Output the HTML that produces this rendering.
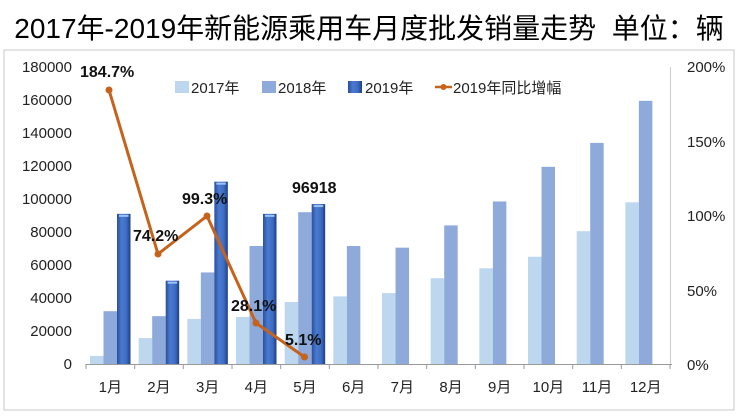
<!DOCTYPE html>
<html><head><meta charset="utf-8"><style>
body{margin:0;background:#fff;}
svg text{font-family:"Liberation Sans","Noto Sans CJK SC",sans-serif;}
</style></head><body>
<svg width="744" height="415" xmlns="http://www.w3.org/2000/svg">
<defs>
<linearGradient id="g19" x1="0" x2="1" y1="0" y2="0">
<stop offset="0" stop-color="#2a4f9a"/><stop offset="0.35" stop-color="#4a7bd0"/><stop offset="0.7" stop-color="#3d6cc4"/><stop offset="1" stop-color="#1f3f85"/>
</linearGradient>
</defs>
<rect x="0" y="0" width="744" height="415" fill="#fff"/>
<rect x="4" y="50" width="730" height="360" fill="none" stroke="#c8c8c8" stroke-width="1"/>
<text x="369" y="38" font-size="28" text-anchor="middle" fill="#000">2017年-2019年新能源乘用车月度批发销量走势&#160;&#160;单位：辆</text>
<g font-size="15" fill="#222" text-anchor="end">
<text x="72" y="369">0</text>
<text x="72" y="336">20000</text>
<text x="72" y="303">40000</text>
<text x="72" y="270">60000</text>
<text x="72" y="237">80000</text>
<text x="72" y="204">100000</text>
<text x="72" y="171">120000</text>
<text x="72" y="138">140000</text>
<text x="72" y="105">160000</text>
<text x="72" y="72">180000</text>
</g>
<g font-size="15" fill="#222">
<text x="687" y="370">0%</text>
<text x="687" y="296">50%</text>
<text x="687" y="221">100%</text>
<text x="687" y="147">150%</text>
<text x="687" y="72">200%</text>
</g>
<line x1="86" y1="364.5" x2="672" y2="364.5" stroke="#999"/>
<line x1="670.5" y1="67" x2="670.5" y2="364" stroke="#ccc"/>
<g stroke="#999">
<line x1="86" y1="364" x2="86" y2="369"/><line x1="134.7" y1="364" x2="134.7" y2="369"/><line x1="183.3" y1="364" x2="183.3" y2="369"/><line x1="232" y1="364" x2="232" y2="369"/><line x1="280.7" y1="364" x2="280.7" y2="369"/><line x1="329.3" y1="364" x2="329.3" y2="369"/><line x1="378" y1="364" x2="378" y2="369"/><line x1="426.7" y1="364" x2="426.7" y2="369"/><line x1="475.3" y1="364" x2="475.3" y2="369"/><line x1="524" y1="364" x2="524" y2="369"/><line x1="572.7" y1="364" x2="572.7" y2="369"/><line x1="621.3" y1="364" x2="621.3" y2="369"/><line x1="670" y1="364" x2="670" y2="369"/>
</g>
<g id="bars"></g>
<g font-size="15" fill="#222" text-anchor="middle" id="xl"></g>
<rect x="175" y="81" width="14" height="12" fill="#bdd7ee"/>
<text x="191" y="93" font-size="15" fill="#222">2017年</text>
<rect x="262" y="81" width="14" height="12" fill="#8eaadb"/>
<text x="278" y="93" font-size="15" fill="#222">2018年</text>
<rect x="348" y="81" width="14" height="12" fill="url(#g19)"/>
<text x="365" y="93" font-size="15" fill="#222">2019年</text>
<line x1="435" y1="87" x2="452" y2="87" stroke="#c5631c" stroke-width="2.5"/>
<circle cx="443.5" cy="87" r="3" fill="#c5631c"/>
<text x="453" y="93" font-size="15" fill="#222">2019年同比增幅</text>
<script>
var s17=[4900,15700,27300,28500,37600,41000,43000,52000,58000,65000,80500,98000];
var s18=[32000,29000,55500,71500,92000,71500,70500,84000,98500,119500,134000,159500];
var s19=[91000,50500,110500,91000,96918];
var ns="http://www.w3.org/2000/svg",b=document.getElementById('bars'),xl=document.getElementById('xl');
function y(v){return 364-v*297/180000;}
function r(x,v,f){var e=document.createElementNS(ns,'rect');e.setAttribute('x',x);e.setAttribute('y',y(v));e.setAttribute('width',13.5);e.setAttribute('height',364-y(v));e.setAttribute('fill',f);b.appendChild(e);return e;}
for(var i=0;i<12;i++){var x0=86+i*48.67;
r(x0+4,s17[i],'#bdd7ee');r(x0+17.5,s18[i],'#8eaadb');
if(i<5){r(x0+31,s19[i],'url(#g19)');var t=document.createElementNS(ns,'rect');t.setAttribute('x',x0+33);t.setAttribute('y',y(s19[i])+1);t.setAttribute('width',9.5);t.setAttribute('height',2);t.setAttribute('fill','#9cc3f5');b.appendChild(t);}
var tx=document.createElementNS(ns,'text');tx.setAttribute('x',x0+24.3);tx.setAttribute('y',392);tx.textContent=(i+1)+'月';xl.appendChild(tx);}
</script>
<polyline points="109,90 158,254 207,216 256,323 304.5,357" fill="none" stroke="#c5631c" stroke-width="3"/>
<g fill="#c5631c"><circle cx="109" cy="90" r="3.5"/><circle cx="158" cy="254" r="3.5"/><circle cx="207" cy="216" r="3.5"/><circle cx="256" cy="323" r="3.5"/><circle cx="304.5" cy="357" r="3.5"/></g>
<g font-size="16" font-weight="bold" fill="#111">
<text x="80" y="77">184.7%</text>
<text x="133" y="241">74.2%</text>
<text x="182" y="204">99.3%</text>
<text x="231" y="311">28.1%</text>
<text x="285" y="345">5.1%</text>
<text x="292" y="193">96918</text>
</g>
</svg>
</body></html>
